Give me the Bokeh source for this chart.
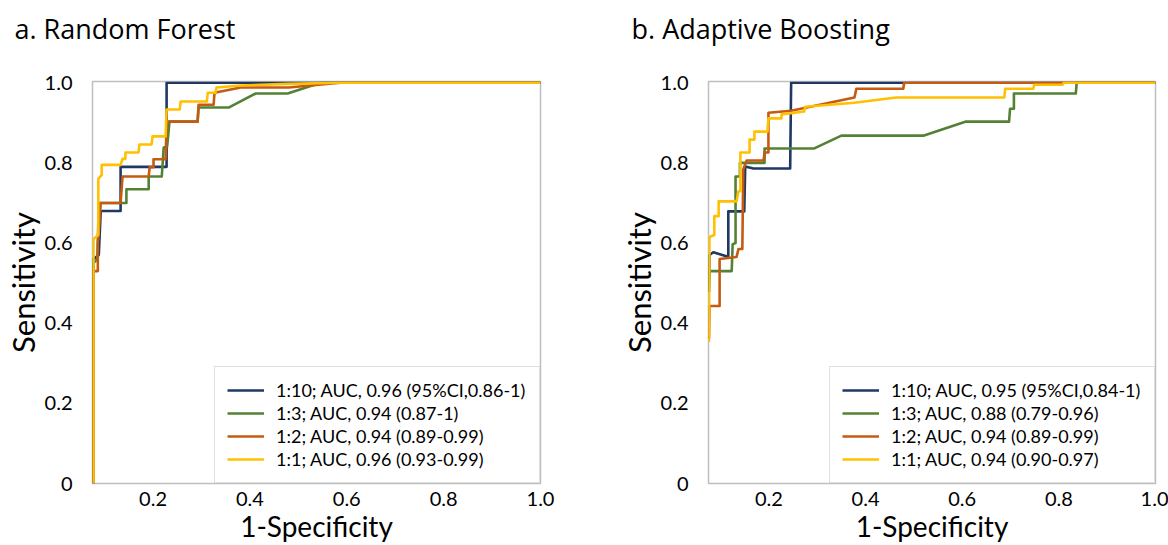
from bokeh.plotting import figure
from bokeh.layouts import row
from bokeh.models import Legend, LegendItem, FixedTicker, Range1d, LinearAxis
from bokeh.embed import file_html
from bokeh.resources import INLINE

# ---------------- data ----------------
x_ticks = [0.2, 0.4, 0.6, 0.8, 1.0]
x_tick_labels = ["0.2", "0.4", "0.6", "0.8", "1.0"]
y_ticks = [0.0, 0.2, 0.4, 0.6, 0.8, 1.0]
y_tick_labels = ["0", "0.2", "0.4", "0.6", "0.8", "1.0"]

rf_labels = ["1:10; AUC, 0.96 (95%CI,0.86-1)", "1:3; AUC, 0.94 (0.87-1)",
             "1:2; AUC, 0.94 (0.89-0.99)", "1:1; AUC, 0.96 (0.93-0.99)"]
ab_labels = ["1:10; AUC, 0.95 (95%CI,0.84-1)", "1:3; AUC, 0.88 (0.79-0.96)",
             "1:2; AUC, 0.94 (0.89-0.99)", "1:1; AUC, 0.94 (0.90-0.97)"]

# Random Forest
rf_1_10_fpr = [0.077, 0.077, 0.088, 0.092, 0.133, 0.133, 0.228, 0.228, 1.0]
rf_1_10_tpr = [0.0, 0.56, 0.57, 0.68, 0.68, 0.79, 0.79, 1.0, 1.0]

rf_1_3_fpr = [0.077, 0.077, 0.085, 0.088, 0.145, 0.145, 0.191, 0.191, 0.218, 0.222, 0.229,
              0.234, 0.292, 0.294, 0.356, 0.412, 0.478, 0.546, 1.0]
rf_1_3_tpr = [0.0, 0.55, 0.56, 0.70, 0.70, 0.734, 0.734, 0.766, 0.766, 0.838, 0.84,
              0.903, 0.903, 0.938, 0.938, 0.973, 0.973, 1.0, 1.0]

rf_1_2_fpr = [0.077, 0.077, 0.086, 0.086, 0.090, 0.092, 0.133, 0.137, 0.191, 0.193, 0.201,
              0.201, 0.226, 0.228, 0.292, 0.294, 0.325, 0.327, 0.381, 0.480, 0.587, 1.0]
rf_1_2_tpr = [0.0, 0.53, 0.53, 0.60, 0.66, 0.70, 0.70, 0.766, 0.766, 0.789, 0.789,
              0.809, 0.809, 0.903, 0.903, 0.945, 0.945, 0.975, 0.988, 0.988, 1.0, 1.0]

rf_1_1_fpr = [0.077, 0.077, 0.087, 0.087, 0.094, 0.094, 0.133, 0.137, 0.143, 0.143, 0.170,
              0.172, 0.197, 0.199, 0.226, 0.228, 0.255, 0.257, 0.311, 0.313, 0.329, 0.331,
              0.381, 0.478, 0.587, 1.0]
rf_1_1_tpr = [0.0, 0.61, 0.62, 0.76, 0.77, 0.795, 0.795, 0.81, 0.81, 0.826, 0.826,
              0.846, 0.846, 0.866, 0.866, 0.933, 0.933, 0.953, 0.953, 0.975, 0.975, 0.988,
              0.993, 0.997, 1.0, 1.0]

# Adaptive Boosting
ab_1_10_fpr = [0.076, 0.077, 0.085, 0.112, 0.116, 0.116, 0.149, 0.151, 0.168, 0.244, 0.246, 1.0]
ab_1_10_tpr = [0.478, 0.57, 0.577, 0.567, 0.567, 0.679, 0.679, 0.791, 0.786, 0.786, 1.0, 1.0]

ab_1_3_fpr = [0.076, 0.077, 0.123, 0.125, 0.131, 0.131, 0.140, 0.140, 0.191, 0.191, 0.294,
              0.350, 0.521, 0.608, 0.697, 0.699, 0.707, 0.707, 0.835, 0.837, 1.0]
ab_1_3_tpr = [0.50, 0.53, 0.53, 0.597, 0.60, 0.766, 0.766, 0.80, 0.80, 0.836, 0.836,
              0.868, 0.868, 0.903, 0.903, 0.935, 0.935, 0.973, 0.973, 1.0, 1.0]

ab_1_2_fpr = [0.076, 0.077, 0.098, 0.098, 0.133, 0.137, 0.145, 0.147, 0.154, 0.189, 0.191,
              0.199, 0.199, 0.246, 0.377, 0.381, 0.478, 0.480, 1.0]
ab_1_2_tpr = [0.361, 0.443, 0.443, 0.560, 0.565, 0.585, 0.585, 0.784, 0.806, 0.806, 0.826,
              0.826, 0.925, 0.93, 0.963, 0.985, 0.985, 1.0, 1.0]

ab_1_1_fpr = [0.076, 0.077, 0.087, 0.087, 0.096, 0.096, 0.133, 0.137, 0.141, 0.141, 0.160,
              0.160, 0.170, 0.170, 0.197, 0.199, 0.226, 0.226, 0.273, 0.275, 0.377, 0.463,
              0.687, 0.689, 0.747, 0.749, 0.808, 0.810, 1.0]
ab_1_1_tpr = [0.353, 0.615, 0.62, 0.667, 0.667, 0.704, 0.704, 0.729, 0.729, 0.826, 0.826,
              0.858, 0.858, 0.878, 0.878, 0.911, 0.911, 0.921, 0.928, 0.94, 0.950, 0.963,
              0.963, 0.985, 0.985, 0.995, 0.995, 1.0, 1.0]

colors = ["#203864", "#548235", "#c55a11", "#ffc000"]
FONT = "Lato"
TITLE_FONT = "Open Sans"
TEXT_COLOR = "#000000"


def make_panel(title, series, labels, width, mbl, mbr, title_offset):
    p = figure(width=width, height=545,
               x_range=Range1d(0.075, 1.0), y_range=Range1d(0.0, 1.003),
               output_backend="svg", toolbar_location=None,
               min_border_left=mbl, min_border_right=mbr,
               min_border_top=81, min_border_bottom=60,
               title=title)
    p.title.text_font = TITLE_FONT
    p.title.text_font_size = "27px"
    p.title.text_font_style = "normal"
    p.title.text_color = TEXT_COLOR
    p.title.align = "left"
    p.title.offset = title_offset
    p.title.standoff = 10

    p.grid.visible = False
    p.outline_line_color = "#bfbfbf"
    p.outline_line_width = 1.5
    p.background_fill_color = "white"
    p.border_fill_color = "white"

    xa = p.xaxis[0]
    ya = p.yaxis[0]
    for ax in (xa, ya):
        ax.axis_line_color = None
        ax.major_tick_line_color = None
        ax.minor_tick_line_color = None
        ax.major_label_text_font = FONT
        ax.major_label_text_font_size = "20px"
        ax.major_label_text_color = TEXT_COLOR
        ax.axis_label_text_font = FONT
        ax.axis_label_text_font_style = "normal"
        ax.axis_label_text_color = TEXT_COLOR
    xa.ticker = FixedTicker(ticks=x_ticks)
    xa.major_label_overrides = dict(zip(x_ticks, x_tick_labels))
    ya.ticker = FixedTicker(ticks=y_ticks)
    ya.major_label_overrides = dict(zip(y_ticks, y_tick_labels))
    xa.major_label_standoff = 2
    ya.major_label_standoff = 14
    xa.axis_label = "1-Specificity"
    xa.axis_label_text_font_size = "28px"
    xa.axis_label_standoff = 0
    ya.axis_label = "Sensitivity"
    ya.axis_label_text_font_size = "31px"
    ya.axis_label_standoff = 0

    # invisible spacer axis above the frame: lifts the title away from the plot box
    spacer = LinearAxis(ticker=FixedTicker(ticks=[0.5]), major_tick_out=30, major_tick_in=0,
                        major_tick_line_color="white", major_tick_line_alpha=0.01,
                        minor_tick_line_color=None, axis_line_color=None,
                        major_label_standoff=0, major_label_overrides={0.5: ""},
                        major_label_text_font_size="1px")
    p.add_layout(spacer, "above")

    items = []
    for (fpr, tpr), col, lab in zip(series, colors, labels):
        r = p.line(fpr, tpr, line_color=col, line_width=2.6, line_join="round")
        items.append(LegendItem(label=lab, renderers=[r]))

    leg = Legend(items=items, location="bottom_right", margin=0, padding=12,
                 spacing=1, glyph_width=37, glyph_height=20, label_height=20,
                 label_standoff=12, label_width=251,
                 label_text_font=FONT, label_text_font_size="18px",
                 label_text_color=TEXT_COLOR,
                 border_line_color="#bfbfbf", border_line_width=1.5,
                 background_fill_color="white", background_fill_alpha=1.0)
    p.add_layout(leg)
    return p


rf_series = [(rf_1_10_fpr, rf_1_10_tpr), (rf_1_3_fpr, rf_1_3_tpr),
             (rf_1_2_fpr, rf_1_2_tpr), (rf_1_1_fpr, rf_1_1_tpr)]
ab_series = [(ab_1_10_fpr, ab_1_10_tpr), (ab_1_3_fpr, ab_1_3_tpr),
             (ab_1_2_fpr, ab_1_2_tpr), (ab_1_1_fpr, ab_1_1_tpr)]

p1 = make_panel("a. Random Forest", rf_series, rf_labels, 616, 92, 76, -78)
p2 = make_panel("b. Adaptive Boosting", ab_series, ab_labels, 552, 91, 13, -77)

layout = row(p1, p2)
open("out.html", "w").write(file_html(layout, INLINE))
